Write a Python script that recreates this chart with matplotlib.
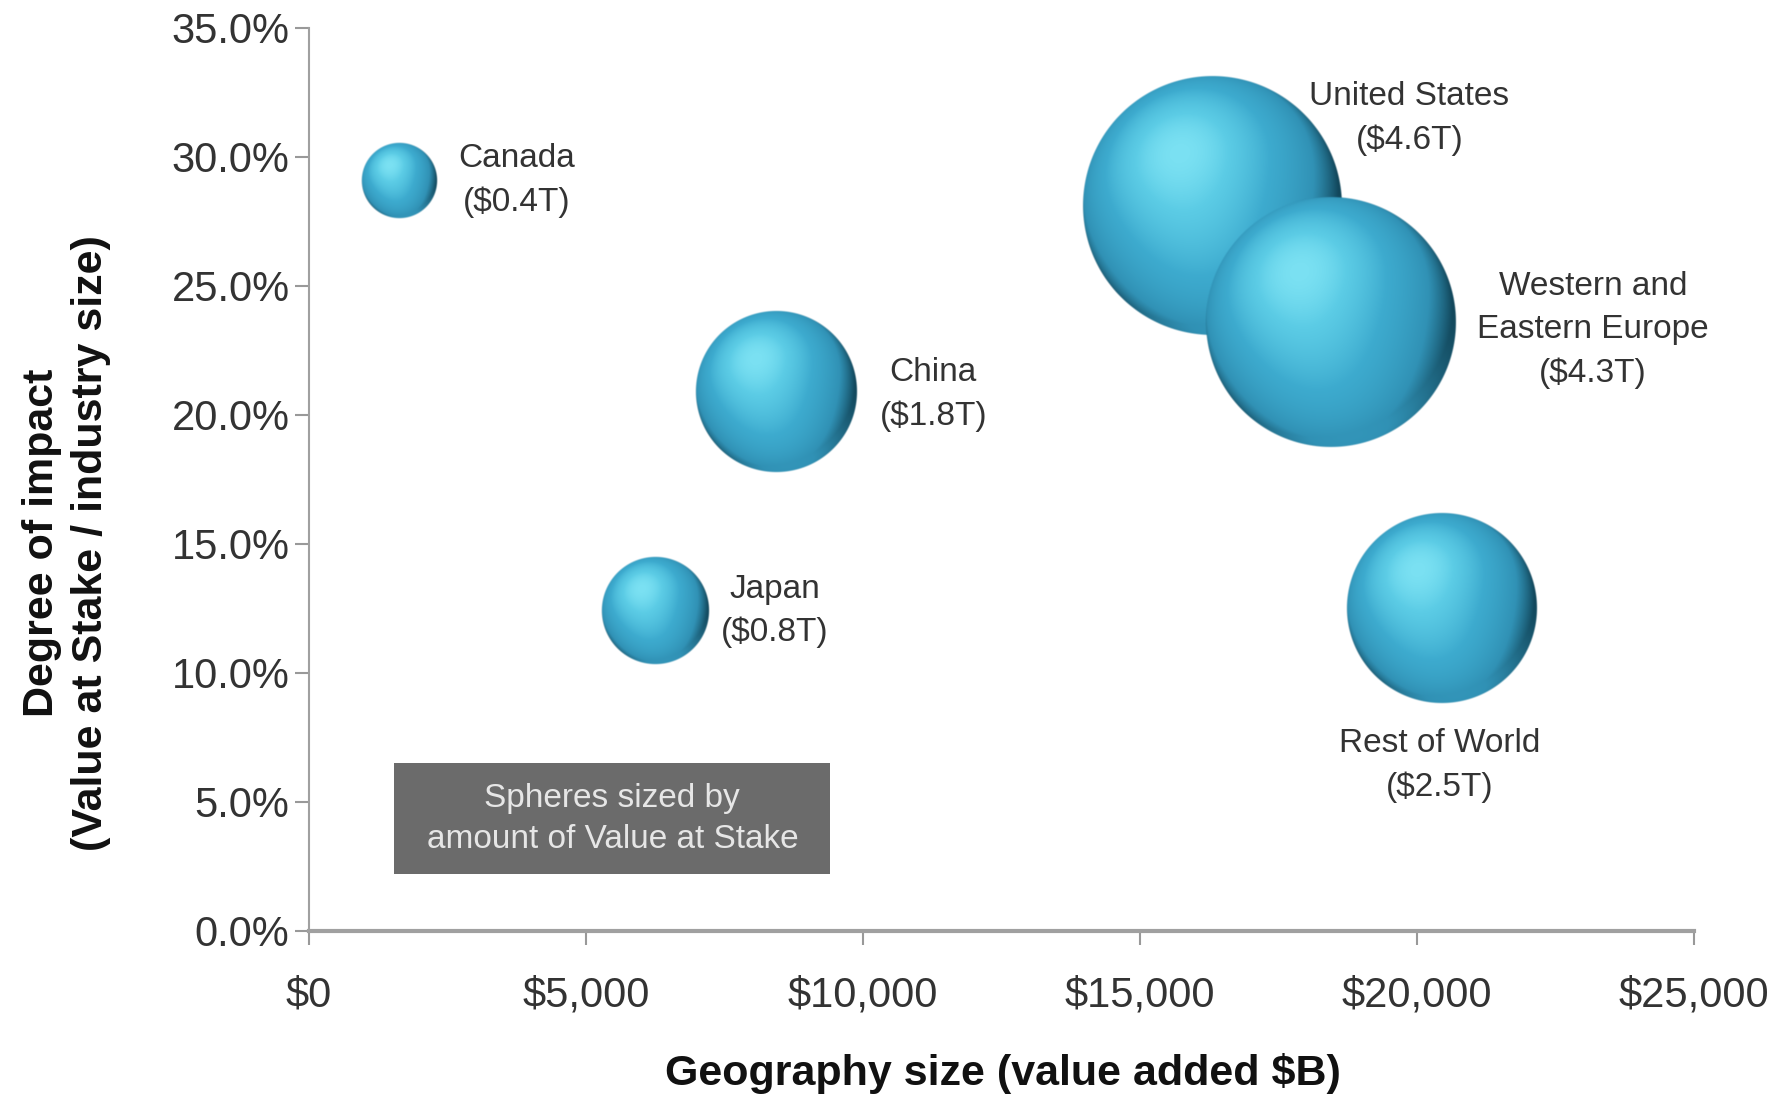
import matplotlib
matplotlib.use("Agg")
import matplotlib.pyplot as plt
from matplotlib.colors import LinearSegmentedColormap
from matplotlib.patches import Rectangle
from matplotlib.ticker import FuncFormatter
import numpy as np

plt.rcParams['font.family'] = ['Liberation Sans', 'DejaVu Sans']

# Data
regions = ["Canada", "China", "Japan", "United States", "Western and\nEastern Europe", "Rest of World"]
geo_size = [1640, 8440, 6250, 16300, 18440, 20450]          # value added, $B
impact = [29.1, 20.9, 12.4, 28.1, 23.6, 12.5]                # % value at stake / industry size
value_at_stake = [0.4, 1.8, 0.8, 4.6, 4.3, 2.5]              # $T
stake_labels = ["($0.4T)", "($1.8T)", "($0.8T)", "($4.6T)", "($4.3T)", "($2.5T)"]

# where the text labels sit (data coords)
label_x = [3750, 11270, 8400, 19860, 23180, 20410]
label_y = [29.1, 20.8, 12.4, 31.5, 23.3, 6.4]

xticks = [0, 5000, 10000, 15000, 20000, 25000]
yticks = [0, 5, 10, 15, 20, 25, 30, 35]

fig = plt.figure(figsize=(17.8, 11.1), dpi=100)
ax = fig.add_axes([0.1736, 0.1613, 0.7781, 0.8135])
ax.set_xlim(0, 25000)
ax.set_ylim(0, 35)

# sphere shading colormap (dark edge -> base -> highlight)
sphere_cmap = LinearSegmentedColormap.from_list("sphere", [
    (0.0, (0.07, 0.28, 0.36)),
    (0.35, (0.19, 0.57, 0.71)),
    (0.72, (0.24, 0.67, 0.81)),
    (0.92, (0.36, 0.80, 0.90)),
    (1.0, (0.48, 0.88, 0.95)),
])

N = 500
u = np.linspace(-1, 1, N)
U, V = np.meshgrid(u, u)
Yup = -V
rho = np.sqrt(U**2 + V**2)
nz = np.sqrt(np.clip(1 - rho**2, 0, 1))
L = np.array([-0.25, 0.4, 0.88]); L = L / np.linalg.norm(L)
R = np.array([0.15, -0.9, 0.4]); R = R / np.linalg.norm(R)
diff = np.clip(U * L[0] + Yup * L[1] + nz * L[2], 0, 1)
refl = np.clip(U * R[0] + Yup * R[1] + nz * R[2], 0, 1)
shade = np.clip(diff**1.2 + 0.4 * refl**2.5, 0, 1)

# px per data unit
p0 = ax.transData.transform((0, 0))
p1 = ax.transData.transform((1, 1))
px_per_x = p1[0] - p0[0]
px_per_y = p1[1] - p0[1]
K = 60.7  # pixel radius per sqrt($T)

for x, y, v in zip(geo_size, impact, value_at_stake):
    r_px = K * np.sqrt(v)
    edge = 1.6 / r_px
    img = sphere_cmap(shade)
    img[..., 3] = np.clip((1 - rho) / edge, 0, 1)
    rx = r_px / px_per_x
    ry = r_px / px_per_y
    ax.imshow(img, extent=(x - rx, x + rx, y - ry, y + ry), origin='upper',
              interpolation='antialiased', aspect='auto', zorder=3)

ax.set_xlim(0, 25000)
ax.set_ylim(0, 35)

for name, stake, lx, ly in zip(regions, stake_labels, label_x, label_y):
    ax.text(lx, ly, name + "\n" + stake, ha='center', va='center', fontsize=24,
            color='#333333', linespacing=1.5, zorder=4)

# note box
ax.add_patch(Rectangle((1540, 2.2), 7870, 4.3, facecolor='#6b6b6b', edgecolor='none', zorder=2))
ax.text(5475, 4.35, "Spheres sized by\namount of Value at Stake", ha='center', va='center',
        fontsize=24, color='#e6e6e6', linespacing=1.4, zorder=3)

ax.set_xticks(xticks)
ax.set_yticks(yticks)
ax.xaxis.set_major_formatter(FuncFormatter(lambda v, p: "${:,.0f}".format(v)))
ax.yaxis.set_major_formatter(FuncFormatter(lambda v, p: "{:.1f}%".format(v)))
ax.tick_params(axis='both', labelsize=30, colors='#999999', labelcolor='#333333',
               length=10, width=1.5, direction='out')
ax.tick_params(axis='x', pad=22)
ax.tick_params(axis='y', pad=4)
for s in ['top', 'right']:
    ax.spines[s].set_visible(False)
ax.spines['left'].set_color('#a0a0a0')
ax.spines['left'].set_linewidth(1.5)
ax.spines['bottom'].set_color('#a0a0a0')
ax.spines['bottom'].set_linewidth(3)

fig.text(0.5637, 0.0333, "Geography size (value added $B)", ha='center', va='center',
         fontsize=31, fontweight='bold', color='#111111')
fig.text(0.0374, 0.511, "Degree of impact\n(Value at Stake / industry size)", ha='center', va='center',
         rotation=90, fontsize=31, fontweight='bold', color='#111111', linespacing=1.3)

fig.savefig("out.png", dpi=100, facecolor='white')
